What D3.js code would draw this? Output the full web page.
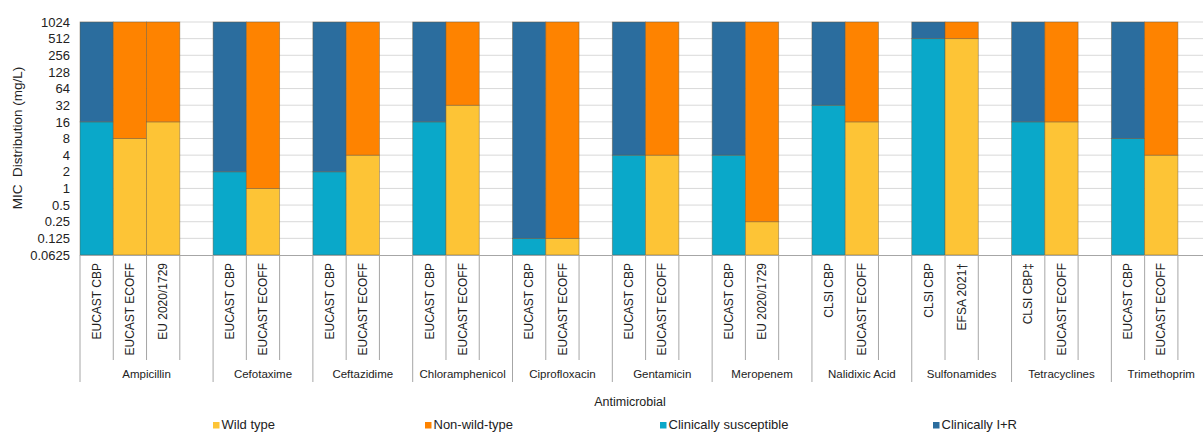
<!DOCTYPE html>
<html>
<head>
<meta charset="utf-8">
<script src="https://cdn.jsdelivr.net/npm/d3@7/dist/d3.min.js"></script>
<style>
  html, body { margin: 0; padding: 0; background: #fff; }
  svg { display: block; font-family: "Liberation Sans", Arial, sans-serif; }
</style>
</head>
<body>
<svg id="chart" width="1203" height="432"></svg>
<script>
// ---- Data ----
const antimicrobials = ["Ampicillin","Cefotaxime","Ceftazidime","Chloramphenicol","Ciprofloxacin","Gentamicin","Meropenem","Nalidixic Acid","Sulfonamides","Tetracyclines","Trimethoprim"];
const breakpointLabels = [
  ["EUCAST CBP","EUCAST ECOFF","EU 2020/1729"],
  ["EUCAST CBP","EUCAST ECOFF"],
  ["EUCAST CBP","EUCAST ECOFF"],
  ["EUCAST CBP","EUCAST ECOFF"],
  ["EUCAST CBP","EUCAST ECOFF"],
  ["EUCAST CBP","EUCAST ECOFF"],
  ["EUCAST CBP","EU 2020/1729"],
  ["CLSI CBP","EUCAST ECOFF"],
  ["CLSI CBP","EFSA 2021†"],
  ["CLSI CBP‡","EUCAST ECOFF"],
  ["EUCAST CBP","EUCAST ECOFF"]
];
// breakpoint kind: "clin" = clinical (susceptible / I+R), "epi" = epidemiological (wild / non-wild)
const breakpointKinds = [
  ["clin","epi","epi"],
  ["clin","epi"],["clin","epi"],["clin","epi"],["clin","epi"],["clin","epi"],
  ["clin","epi"],["clin","epi"],["clin","epi"],["clin","epi"],["clin","epi"]
];
// MIC breakpoint value (mg/L)
const breakpointValues = [
  [16, 8, 16],
  [2, 1],
  [2, 4],
  [16, 32],
  [0.125, 0.125],
  [4, 4],
  [4, 0.25],
  [32, 16],
  [512, 512],
  [16, 16],
  [8, 4]
];
const yTicks = [0.0625,0.125,0.25,0.5,1,2,4,8,16,32,64,128,256,512,1024];
const yTickLabels = ["0.0625","0.125","0.25","0.5","1","2","4","8","16","32","64","128","256","512","1024"];
const legendLabels = ["Wild type","Non-wild-type","Clinically susceptible","Clinically I+R"];

const colors = {
  wild: "#fdc436", nonwild: "#fe8300", susc: "#0aa8c9", ir: "#2b6d9e"
};

// ---- Build slots (one blank spacer slot per group) ----
const slots = [];
const groups = [];
antimicrobials.forEach((g, gi) => {
  const start = slots.length;
  breakpointLabels[gi].forEach((lab, bi) => {
    slots.push({id: gi + "_" + bi, group: g, label: lab, kind: breakpointKinds[gi][bi], value: breakpointValues[gi][bi]});
  });
  slots.push({id: gi + "_blank", group: g, label: null});
  groups.push({name: g, start: start, end: slots.length});
});

const svg = d3.select("#chart");
const mLeft = 80, mTop = 22, mBottom = 255;
const slotW = 33.27;

const x = d3.scaleBand().domain(slots.map(s => s.id)).range([mLeft, mLeft + slotW * slots.length]).padding(0);
const y = d3.scaleLog().base(2).domain([0.0625, 1024]).range([mBottom, mTop]);

// gridlines
svg.append("g").selectAll("line").data(yTicks.slice(1)).join("line")
  .attr("x1", mLeft).attr("x2", 1203)
  .attr("y1", d => y(d)).attr("y2", d => y(d))
  .attr("stroke", "#d9d9d9").attr("stroke-width", 1);

// y axis labels
const yAxis = d3.axisLeft(y).tickValues(yTicks).tickFormat((d, i) => yTickLabels[i]).tickSize(0).tickPadding(10);
const yg = svg.append("g").attr("transform", `translate(${mLeft},0)`).call(yAxis);
yg.select(".domain").remove();
yg.selectAll("text").attr("font-size", 13).attr("fill", "#222").attr("font-family", "Liberation Sans, Arial, sans-serif");

// bars
const bars = slots.filter(s => s.label);
const barG = svg.append("g");
bars.forEach(s => {
  const x0 = x(s.id), w = x.bandwidth();
  const lowC = s.kind === "clin" ? colors.susc : colors.wild;
  const highC = s.kind === "clin" ? colors.ir : colors.nonwild;
  barG.append("rect").attr("x", x0).attr("width", w)
    .attr("y", y(s.value)).attr("height", y(0.0625) - y(s.value))
    .attr("fill", lowC).attr("stroke", "#6b5a3a").attr("stroke-opacity", 0.55).attr("stroke-width", 0.8);
  barG.append("rect").attr("x", x0).attr("width", w)
    .attr("y", y(1024)).attr("height", y(s.value) - y(1024))
    .attr("fill", highC).attr("stroke", "#6b5a3a").attr("stroke-opacity", 0.55).attr("stroke-width", 0.8);
});

// bottom axis line
svg.append("line").attr("x1", mLeft).attr("x2", 1203).attr("y1", mBottom + 0.5).attr("y2", mBottom + 0.5)
  .attr("stroke", "#a6a6a6").attr("stroke-width", 1);

// category separators
const sepG = svg.append("g").attr("stroke", "#a6a6a6").attr("stroke-width", 1);
const groupStarts = new Set(groups.map(g => g.start));
for (let i = 0; i <= slots.length; i++) {
  const xx = mLeft + slotW * i;
  const isGroup = groupStarts.has(i) || i === slots.length;
  sepG.append("line").attr("x1", xx).attr("x2", xx).attr("y1", mBottom)
    .attr("y2", isGroup ? 382 : 360);
}

// category labels (rotated)
svg.append("g").selectAll("text").data(bars).join("text")
  .attr("transform", d => `translate(${x(d.id) + x.bandwidth() / 2},263) rotate(-90)`)
  .attr("text-anchor", "end").attr("dy", "0.35em")
  .attr("font-size", 12).attr("fill", "#222")
  .text(d => d.label);

// group labels
svg.append("g").selectAll("text").data(groups).join("text")
  .attr("x", d => mLeft + slotW * (d.start + d.end) / 2)
  .attr("y", 378).attr("text-anchor", "middle")
  .attr("font-size", 11.5).attr("fill", "#222")
  .text(d => d.name);

// axis titles
svg.append("text").attr("x", 630).attr("y", 406).attr("text-anchor", "middle")
  .attr("font-size", 12.5).attr("fill", "#222").text("Antimicrobial");
svg.append("text").attr("transform", "translate(22,138) rotate(-90)")
  .attr("text-anchor", "middle").attr("font-size", 13.5).attr("fill", "#222")
  .attr("xml:space", "preserve").style("white-space", "pre")
  .text("MIC  Distribution (mg/L)");

// legend
const legendX = [213, 425, 660, 933];
const legendC = [colors.wild, colors.nonwild, colors.susc, colors.ir];
const lg = svg.append("g");
legendLabels.forEach((l, i) => {
  lg.append("rect").attr("x", legendX[i]).attr("y", 422).attr("width", 6.5).attr("height", 6.5).attr("fill", legendC[i]);
  lg.append("text").attr("x", legendX[i] + 8.5).attr("y", 429).attr("font-size", 13).attr("fill", "#222").text(l);
});
</script>
</body>
</html>
